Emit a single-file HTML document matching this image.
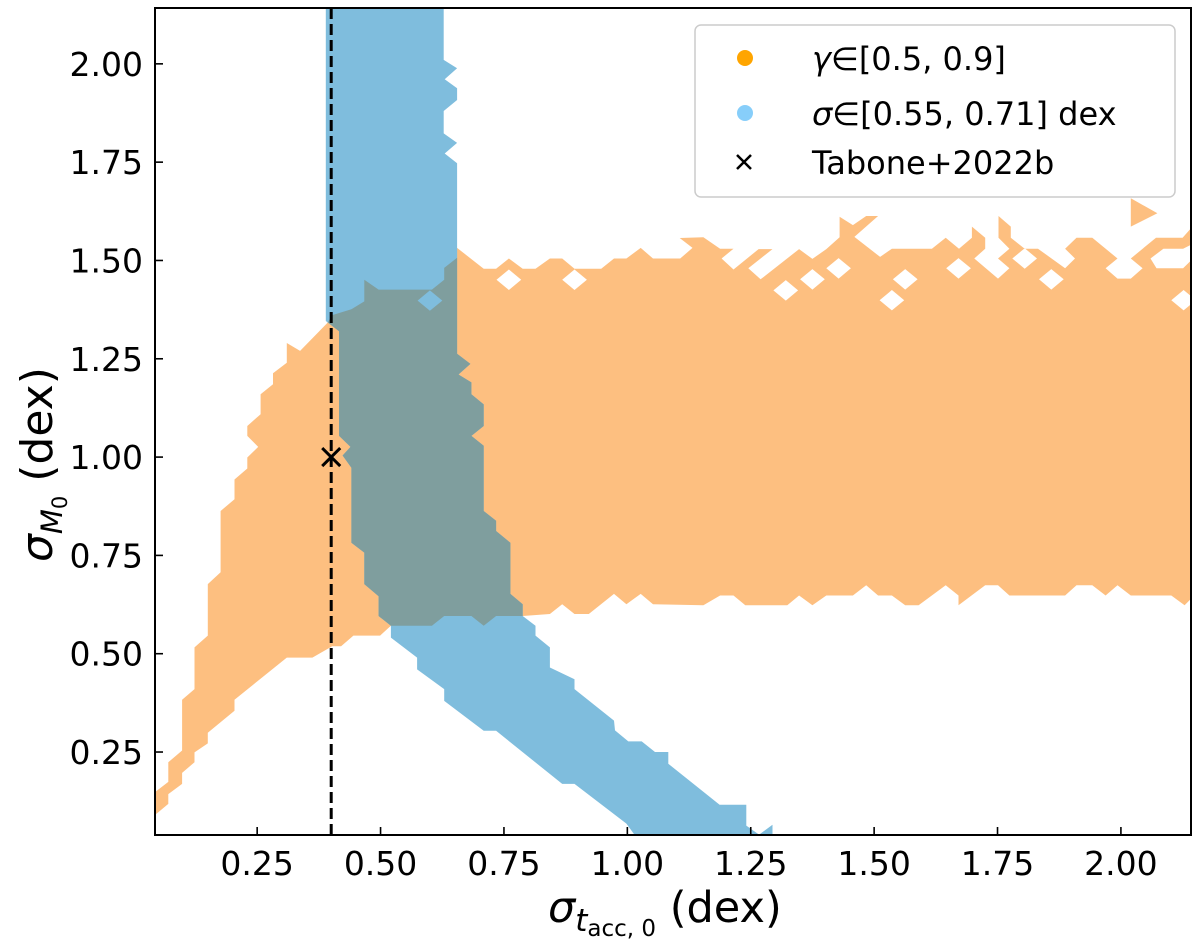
<!DOCTYPE html>
<html><head><meta charset="utf-8"><style>
html,body{margin:0;padding:0;background:#fff;}
svg{display:block;font-family:"DejaVu Sans","Liberation Sans",sans-serif;}
</style></head><body>
<svg id="chart" width="1200" height="947" viewBox="0 0 1200 947">
<defs><clipPath id="plotclip"><rect x="155" y="8" width="1036" height="827"/></clipPath>
<clipPath id="orangeclip"><path id="oclip" clip-rule="evenodd" d=""/></clipPath></defs>
<g id="plot" clip-path="url(#plotclip)"></g>
<g id="axes"></g>
</svg>
<script>
const xTicks=[0.25,0.50,0.75,1.00,1.25,1.50,1.75,2.00];
const xTickLabels=["0.25","0.50","0.75","1.00","1.25","1.50","1.75","2.00"];
const yTicks=[0.25,0.50,0.75,1.00,1.25,1.50,1.75,2.00];
const yTickLabels=["0.25","0.50","0.75","1.00","1.25","1.50","1.75","2.00"];
const orangeRegion=[[0.043,0.093],[0.043,0.148],[0.070,0.174],[0.070,0.224],[0.098,0.254],[0.098,0.383],[0.123,0.410],[0.123,0.516],[0.150,0.546],[0.150,0.677],[0.176,0.707],[0.176,0.863],[0.204,0.893],[0.204,0.943],[0.230,0.971],[0.230,0.999],[0.252,1.026],[0.230,1.054],[0.230,1.079],[0.257,1.109],[0.257,1.160],[0.282,1.185],[0.282,1.213],[0.310,1.240],[0.310,1.290],[0.337,1.270],[0.392,1.341],
[0.402,1.361],[0.441,1.376],[0.467,1.396],[0.467,1.451],[0.496,1.426],[0.604,1.426],[0.629,1.451],[0.629,1.481],[0.655,1.507],[0.655,1.532],[0.709,1.479],[0.734,1.479],[0.760,1.505],[0.788,1.479],[0.814,1.479],[0.843,1.505],[0.868,1.505],[0.893,1.479],[0.947,1.479],[0.973,1.505],[0.998,1.505],[1.027,1.532],[1.052,1.505],[1.107,1.505],[1.132,1.532],[1.106,1.557],[1.154,1.559],[1.188,1.530],[1.215,1.530],[1.191,1.505],[1.215,1.477],[1.266,1.529],[1.294,1.529],[1.245,1.480],[1.270,1.452],[1.348,1.529],[1.375,1.504],[1.403,1.529],[1.430,1.559],[1.430,1.611],[1.457,1.590],[1.484,1.613],[1.508,1.613],[1.460,1.560],[1.512,1.509],[1.536,1.530],[1.617,1.530],[1.645,1.558],[1.672,1.530],[1.698,1.558],[1.698,1.586],[1.725,1.558],[1.725,1.530],[1.703,1.505],[1.751,1.454],[1.774,1.480],[1.751,1.505],[1.774,1.530],[1.752,1.558],[1.752,1.613],[1.777,1.586],[1.777,1.558],[1.805,1.530],[1.832,1.530],[1.887,1.480],[1.907,1.505],[1.887,1.530],[1.910,1.558],[1.942,1.558],[1.993,1.505],[1.969,1.480],[1.993,1.454],[2.020,1.454],[2.044,1.480],[2.020,1.505],[2.071,1.558],[2.125,1.558],[2.142,1.582],[2.142,1.540],[2.126,1.530],[2.086,1.530],[2.060,1.505],[2.072,1.480],[2.126,1.480],[2.142,1.500],
[2.142,0.640],[2.129,0.623],[2.102,0.648],[2.020,0.648],[1.993,0.674],[1.969,0.648],[1.942,0.674],[1.910,0.674],[1.887,0.648],[1.774,0.648],[1.751,0.674],[1.725,0.674],[1.671,0.623],[1.671,0.648],[1.645,0.674],[1.590,0.623],[1.563,0.623],[1.536,0.648],[1.508,0.648],[1.484,0.674],[1.457,0.648],[1.403,0.648],[1.375,0.623],[1.348,0.648],[1.324,0.623],[1.239,0.623],[1.215,0.648],[1.188,0.648],[1.154,0.623],[1.052,0.626],[1.027,0.652],[0.998,0.626],[0.973,0.652],[0.922,0.601],[0.893,0.601],[0.868,0.626],[0.843,0.601],[0.788,0.596],[0.734,0.596],[0.709,0.571],[0.684,0.596],[0.629,0.596],[0.604,0.571],[0.521,0.571],[0.499,0.546],[0.445,0.546],[0.420,0.519],[0.402,0.519],[0.362,0.490],[0.310,0.490],[0.204,0.383],[0.204,0.355],[0.150,0.299],[0.150,0.272],[0.123,0.249],[0.123,0.224],[0.098,0.197],[0.098,0.169],[0.070,0.143],[0.070,0.118],[0.046,0.093]];
const orangeIsland=[[2.020,1.658],[2.074,1.620],[2.020,1.586]];
const orangeHoles=[[0.600,1.398],[0.760,1.451],[0.893,1.451],[1.321,1.424],[1.375,1.452],[1.428,1.480],[1.563,1.452],[1.536,1.399],[1.671,1.480],[1.805,1.505],[1.859,1.452],[2.127,1.399]];
const blueRegion=[[0.389,2.142],[0.628,2.142],[0.628,2.010],[0.655,1.989],[0.630,1.961],[0.655,1.938],[0.655,1.908],[0.628,1.880],[0.628,1.823],[0.655,1.799],[0.630,1.772],[0.655,1.747],[0.655,1.263],[0.682,1.237],[0.658,1.210],[0.684,1.190],[0.684,1.160],[0.709,1.134],[0.709,1.079],[0.684,1.054],[0.709,1.029],[0.709,0.863],[0.734,0.838],[0.734,0.812],[0.763,0.782],[0.763,0.652],[0.788,0.626],[0.788,0.596],[0.814,0.571],[0.814,0.546],[0.843,0.516],[0.843,0.465],[0.893,0.435],[0.893,0.410],[0.973,0.330],[0.975,0.305],[1.002,0.277],[1.029,0.277],[1.056,0.250],[1.083,0.250],[1.083,0.220],[1.187,0.116],[1.241,0.116],[1.241,0.063],[1.267,0.040],[1.294,0.065],[1.294,0.030],[1.020,0.030],[0.998,0.068],[0.893,0.169],[0.868,0.169],[0.734,0.304],[0.709,0.304],[0.629,0.380],[0.629,0.410],[0.574,0.460],[0.574,0.490],[0.521,0.541],[0.521,0.571],[0.496,0.596],[0.496,0.646],[0.467,0.677],[0.467,0.757],[0.441,0.782],[0.441,0.973],[0.423,1.004],[0.439,1.026],[0.416,1.054],[0.416,1.320],[0.389,1.346]];
const refX=[0.40];
const refY=[1.00];

const X0=155,X1=1191,Y0=835,Y1=8,XMIN=0.043,XMAX=2.142,YMIN=0.039,YMAX=2.142;
function sx(v){return X0+(v-XMIN)/(XMAX-XMIN)*(X1-X0);}
function sy(v){return Y0-(v-YMIN)/(YMAX-YMIN)*(Y0-Y1);}
const NS="http://www.w3.org/2000/svg";
function mk(tag,attrs,parent){const e=document.createElementNS(NS,tag);for(const k in attrs)e.setAttribute(k,attrs[k]);parent.appendChild(e);return e;}
function polyD(pts){return "M"+pts.map(p=>sx(p[0]).toFixed(1)+","+sy(p[1]).toFixed(1)).join("L")+"Z";}
function diamondD(c){const hx=0.025,hy=0.026;return polyD([[c[0]-hx,c[1]],[c[0],c[1]+hy],[c[0]+hx,c[1]],[c[0],c[1]-hy]]);}
const plot=document.getElementById('plot'),axes=document.getElementById('axes');
let od=polyD(orangeRegion)+polyD(orangeIsland)+orangeHoles.map(diamondD).join("");
document.getElementById('oclip').setAttribute('d',od);
let o=mk('path',{d:od,fill:'#fdbf80','fill-rule':'evenodd'},plot);


let bd=polyD(blueRegion);
let b=mk('path',{d:bd,fill:'#7fbddd'},plot);


let g=mk('path',{d:bd,fill:'#7f9e9e','clip-path':'url(#orangeclip)'},plot);


let dl=mk('line',{x1:sx(refX[0]),x2:sx(refX[0]),y1:Y1,y2:Y0,stroke:'#000','stroke-width':3,'stroke-dasharray':'11,5'},plot);


let mx=sx(refX[0]),my=sy(refY[0]);
let m=mk('path',{d:`M${mx-9},${my-9}L${mx+9},${my+9}M${mx-9},${my+9}L${mx+9},${my-9}`,stroke:'#000','stroke-width':3},plot);


let fr=mk('rect',{x:X0,y:Y1,width:X1-X0,height:Y0-Y1,fill:'none',stroke:'#000','stroke-width':2},axes);


xTicks.forEach((v,i)=>{
 let t=mk('line',{x1:sx(v),x2:sx(v),y1:Y0,y2:Y0-8,stroke:'#000','stroke-width':1.6},axes);
 
 
 let l=mk('text',{x:sx(v),y:Y0+40,'text-anchor':'middle','font-size':33,fill:'#000'},axes);
 l.textContent=xTickLabels[i];
 
 
});
yTicks.forEach((v,i)=>{
 let t=mk('line',{x1:X0,x2:X0+8,y1:sy(v),y2:sy(v),stroke:'#000','stroke-width':1.6},axes);
 
 
 let l=mk('text',{x:X0-12,y:sy(v)+12,'text-anchor':'end','font-size':33,fill:'#000'},axes);
 l.textContent=yTickLabels[i];
 
 
});
</script>
<svg style="position:absolute;left:0;top:0" width="1200" height="947">
<g font-family="DejaVu Sans, Liberation Sans, sans-serif">
<text x="548" y="922" font-size="43"><tspan font-style="italic">σ</tspan><tspan font-style="italic" font-size="31" dy="9">t</tspan><tspan font-size="23" dy="5">acc, 0</tspan><tspan dy="-14"> (dex)</tspan></text>
<text transform="translate(52,562) rotate(-90)" font-size="44"><tspan font-style="italic">σ</tspan><tspan font-style="italic" font-size="29" dy="10">M</tspan><tspan font-size="21" dy="5">0</tspan><tspan dy="-15"> (dex)</tspan></text>
<g>
<rect x="695" y="25" width="480" height="172" rx="6" fill="#fff" fill-opacity="0.85" stroke="#cccccc" stroke-width="1.5"/>
<circle cx="745" cy="58" r="8" fill="#ffa500"/>
<text x="812" y="70" font-size="32"><tspan font-style="italic">γ</tspan>∈[0.5, 0.9]</text>
<circle cx="745" cy="113" r="8" fill="#87cefa"/>
<text x="812" y="125" font-size="32"><tspan font-style="italic">σ</tspan>∈[0.55, 0.71] dex</text>
<path d="M737,155L751,169M737,169L751,155" stroke="#000" stroke-width="2.5"/>
<text x="812" y="174" font-size="32">Tabone+2022b</text>
</g></g></svg>
</body></html>
